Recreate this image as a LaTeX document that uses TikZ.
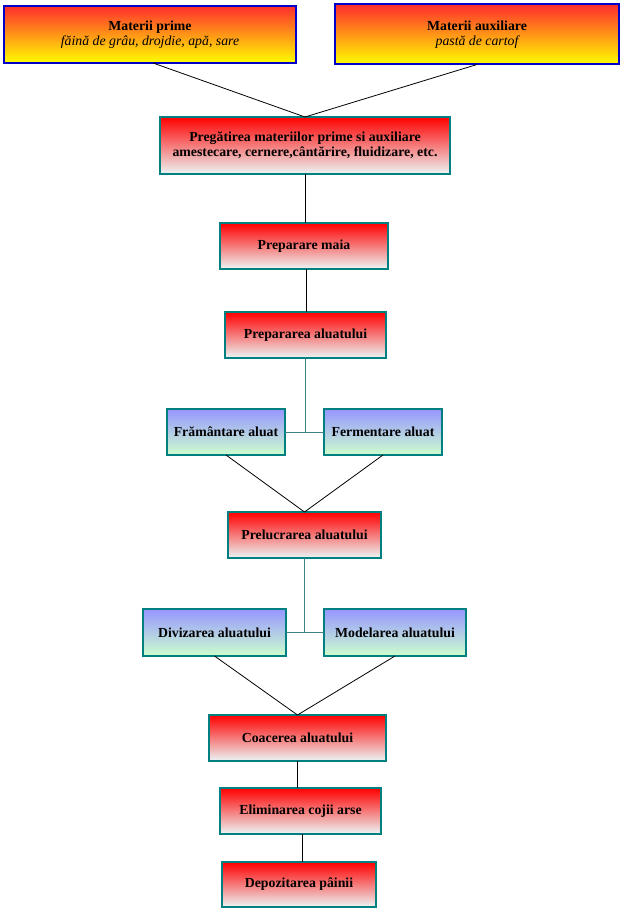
\documentclass[tikz,border=0pt]{standalone}
\usepackage{fontspec}
\setmainfont{Liberation Serif}
\begin{document}
\begin{tikzpicture}[x=1pt,y=-1pt,
  every node/.style={inner sep=0pt, outer sep=0pt, align=center,
    font=\fontsize{13.8}{15}\selectfont\bfseries},
  rawbox/.style={draw=cblue, line width=2pt, top color=ortop, bottom color=orbot, shading angle=0},
  redbox/.style={draw=cteal, line width=2pt, top color=red, bottom color=rdbot},
  bluebox/.style={draw=cteal, line width=2pt, top color=bltop, bottom color=blbot},
  conn/.style={black, line width=0.8pt},
  vconn/.style={black, line width=0.9pt},
  tconn/.style={draw=tline, line width=0.9pt}
]
\definecolor{cblue}{RGB}{0,0,200}
\definecolor{cteal}{RGB}{0,128,128}
\definecolor{ortop}{RGB}{255,45,45}
\definecolor{orbot}{RGB}{255,255,0}
\definecolor{rdbot}{RGB}{236,246,246}
\definecolor{bltop}{RGB}{150,150,255}
\definecolor{blbot}{RGB}{205,255,205}
\definecolor{tline}{RGB}{60,130,130}
\useasboundingbox (0,0) rectangle (625,912);

\node[rawbox, minimum width=292pt, minimum height=57pt] (mp) at (150,34.5)
  {Materii prime\\{\mdseries\itshape făină de grâu, drojdie, apă, sare}};
\node[rawbox, minimum width=284pt, minimum height=60pt] (ma) at (477,34.5)
  {Materii auxiliare\\{\mdseries\itshape pastă de cartof}};
\node[redbox, minimum width=290pt, minimum height=57pt] (pr) at (305,145.5)
  {Pregătirea materiilor prime si auxiliare\\amestecare, cernere,cântărire, fluidizare, etc.};
\node[redbox, minimum width=168pt, minimum height=46pt] (pm) at (304,246) {Preparare maia};
\node[redbox, minimum width=161pt, minimum height=46pt] (pa) at (305.5,335) {Prepararea aluatului};
\node[bluebox, minimum width=118pt, minimum height=46pt] (fr) at (226,432) {Frământare aluat};
\node[bluebox, minimum width=118pt, minimum height=46pt] (fe) at (383,432) {Fermentare aluat};
\node[redbox, minimum width=153pt, minimum height=46pt] (pl) at (304.5,535) {Prelucrarea aluatului};
\node[bluebox, minimum width=143pt, minimum height=47pt] (dv) at (214.5,632.5) {Divizarea aluatului};
\node[bluebox, minimum width=142pt, minimum height=47pt] (mo) at (395,632.5) {Modelarea aluatului};
\node[redbox, minimum width=177pt, minimum height=46pt] (co) at (297.5,738) {Coacerea aluatului};
\node[redbox, minimum width=161pt, minimum height=46pt] (el) at (300.5,811) {Eliminarea cojii arse};
\node[redbox, minimum width=154pt, minimum height=45pt] (dp) at (299,884.5) {Depozitarea pâinii};

% connectors
\draw[conn] ([xshift=3pt]mp.south) -- (pr.north);
\draw[conn] (ma.south) -- (pr.north);
\draw[vconn] (pr.south) -- (pr.south |- pm.north);
\draw[vconn] ([xshift=2pt]pm.south) -- ([xshift=2pt]pm.south |- pa.north);
\coordinate (j1) at (pa.south |- fr.east);
\draw[tconn] (pa.south) -- (j1);
\draw[tconn] (fr.east) -- (fe.west);
\draw[conn] (fr.south) -- (pl.north);
\draw[conn] (fe.south) -- (pl.north);
\coordinate (j2) at (pl.south |- dv.east);
\draw[tconn] (pl.south) -- (j2);
\draw[tconn] (dv.east) -- (mo.west);
\draw[conn] (dv.south) -- (co.north);
\draw[conn] (mo.south) -- (co.north);
\draw[vconn] (co.south) -- (co.south |- el.north);
\draw[vconn] ([xshift=1.5pt]el.south) -- ([xshift=1.5pt]el.south |- dp.north);
\end{tikzpicture}
\end{document}
